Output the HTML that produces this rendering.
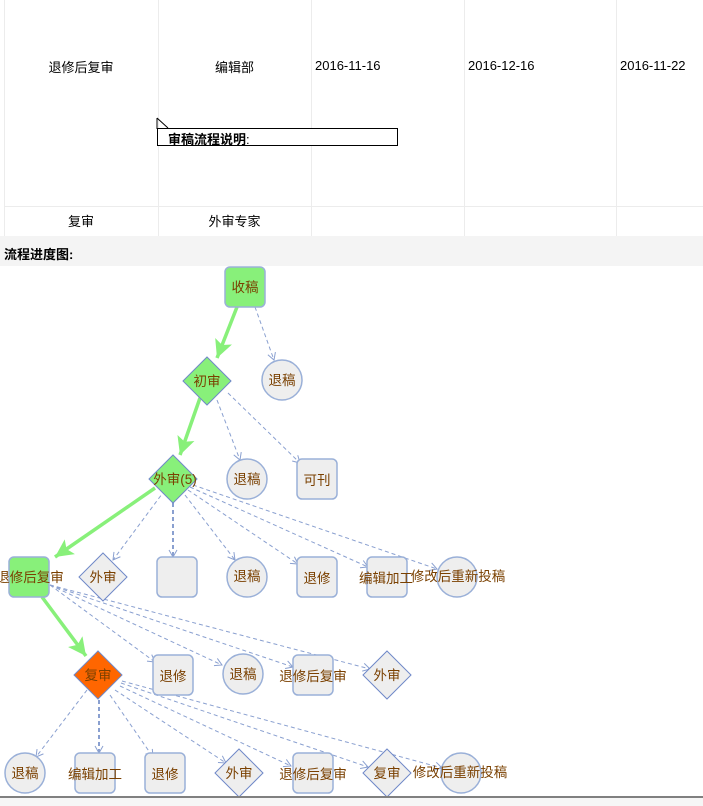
<!DOCTYPE html>
<html><head><meta charset="utf-8"><style>
body{margin:0;width:703px;height:806px;background:#fff;position:relative;overflow:hidden;font-family:"Liberation Sans","Noto Sans CJK SC",sans-serif;font-size:13px;color:#000}
.t{position:absolute;}
.vl{position:absolute;width:1px;background:#ececec;top:0;height:236px}
.hl{position:absolute;height:1px;background:#ececec;left:4px;width:699px}
</style></head><body>
<div class="vl" style="left:4px"></div>
<div class="vl" style="left:158px"></div>
<div class="vl" style="left:311px"></div>
<div class="vl" style="left:464px"></div>
<div class="vl" style="left:616px"></div>
<div class="hl" style="top:206px"></div>
<div class="t" style="left:4px;width:154px;text-align:center;top:57px">退修后复审</div>
<div class="t" style="left:158px;width:153px;text-align:center;top:57px">编辑部</div>
<div class="t" style="left:315px;top:58px">2016-11-16</div>
<div class="t" style="left:468px;top:58px">2016-12-16</div>
<div class="t" style="left:620px;top:58px">2016-11-22</div>
<div class="t" style="left:4px;width:154px;text-align:center;top:211px">复审</div>
<div class="t" style="left:158px;width:153px;text-align:center;top:211px">外审专家</div>
<div class="t" style="left:157px;top:128px;width:239px;height:16px;border:1px solid #000;background:#fff"></div>
<svg style="position:absolute;left:156px;top:117px" width="14" height="13"><path d="M1,1 L12,11" stroke="#000" stroke-width="1" fill="none"/><path d="M1,1 L1,12" stroke="#000"/></svg>
<div class="t" style="left:168px;top:129px;font-weight:bold">审稿流程说明<span style="font-weight:normal">:</span></div>
<div class="t" style="left:0;top:236px;width:703px;height:30px;background:#f4f4f4"></div>
<div class="t" style="left:4px;top:244px;font-weight:bold">流程进度图:</div>
<div class="t" style="left:0;top:796px;width:703px;height:2px;background:#808080"></div>
<div class="t" style="left:0;top:798px;width:703px;height:8px;background:#f6f6f6"></div>
<svg style="position:absolute;left:0;top:0" width="703" height="796" font-family="Liberation Sans, Noto Sans CJK SC, sans-serif" font-size="13.5">
<defs>
<marker id="a" markerWidth="10" markerHeight="10" refX="8" refY="5" orient="auto" markerUnits="userSpaceOnUse"><path d="M1,1 L8,5 L1,9" fill="none" stroke="#8aa0d0" stroke-width="1"/></marker>
<marker id="g" markerWidth="22" markerHeight="22" refX="18" refY="9" orient="auto" markerUnits="userSpaceOnUse"><path d="M0,0 L18,9 L0,18 L4,9z" fill="#88f07a"/></marker>
</defs>
<g stroke="#8aa0d0" stroke-width="1" stroke-dasharray="4,3" fill="none" marker-end="url(#a)">
<line x1="255" y1="307" x2="274" y2="360"/>
<line x1="217" y1="400" x2="240" y2="460"/>
<line x1="228" y1="393" x2="300" y2="463"/>
<line x1="165" y1="490" x2="113" y2="560"/>
<line x1="173" y1="503" x2="173" y2="557" stroke-width="2"/>
<line x1="185" y1="495" x2="235" y2="560"/>
<line x1="188" y1="490" x2="298" y2="564"/>
<line x1="190" y1="487" x2="368" y2="567"/>
<line x1="193" y1="485" x2="437" y2="569"/>
<line x1="50" y1="585" x2="155" y2="662"/>
<line x1="50" y1="585" x2="222" y2="665"/>
<line x1="50" y1="585" x2="293" y2="667"/>
<line x1="50" y1="585" x2="370" y2="669"/>
<line x1="87" y1="690" x2="36" y2="757"/>
<line x1="99" y1="700" x2="99" y2="753" stroke-width="2"/>
<line x1="110" y1="695" x2="153" y2="757"/>
<line x1="115" y1="690" x2="226" y2="763"/>
<line x1="120" y1="686" x2="291" y2="766"/>
<line x1="121" y1="683" x2="368" y2="767"/>
<line x1="122" y1="681" x2="442" y2="768"/>
</g>
<g stroke="#88f07a" stroke-width="3.5" fill="none" marker-end="url(#g)">
<line x1="237" y1="307" x2="217" y2="358"/>
<line x1="200" y1="398" x2="180" y2="455"/>
<line x1="155" y1="488" x2="55" y2="557"/>
<line x1="42" y1="597" x2="86" y2="656"/>
</g>
<g stroke="#9ab0d8" stroke-width="1.5" fill="#eeeeee">
<rect x="225" y="267" width="40" height="40" rx="5" fill="#88f07a"/>
<circle cx="282" cy="380" r="20"/>
<path d="M207,357 L231,381 L207,405 L183,381z" fill="#88f07a" stroke="#6f88c8" stroke-width="1"/>
<circle cx="247" cy="479" r="20"/>
<rect x="297" y="459" width="40" height="40" rx="5"/>
<path d="M173,455 L197,479 L173,503 L149,479z" fill="#88f07a" stroke="#6f88c8" stroke-width="1"/>
<rect x="9" y="557" width="40" height="40" rx="5" fill="#88f07a"/>
<path d="M103,553 L127,577 L103,601 L79,577z" stroke="#6f88c8" stroke-width="1"/>
<rect x="157" y="557" width="40" height="40" rx="5"/>
<circle cx="247" cy="577" r="20"/>
<rect x="297" y="557" width="40" height="40" rx="5"/>
<rect x="367" y="557" width="40" height="40" rx="5"/>
<circle cx="457" cy="577" r="20"/>
<path d="M98,651 L122,675 L98,699 L74,675z" fill="#ff6600" stroke="#6f88c8" stroke-width="1"/>
<rect x="153" y="655" width="40" height="40" rx="5"/>
<circle cx="243" cy="674" r="20"/>
<rect x="293" y="655" width="40" height="40" rx="5"/>
<path d="M387,651 L411,675 L387,699 L363,675z" stroke="#6f88c8" stroke-width="1"/>
<circle cx="25" cy="773" r="20"/>
<rect x="75" y="753" width="40" height="40" rx="5"/>
<rect x="145" y="753" width="40" height="40" rx="5"/>
<path d="M239,749 L263,773 L239,797 L215,773z" stroke="#6f88c8" stroke-width="1"/>
<rect x="293" y="753" width="40" height="40" rx="5"/>
<path d="M387,749 L411,773 L387,797 L363,773z" stroke="#6f88c8" stroke-width="1"/>
<circle cx="461" cy="773" r="20"/>
</g>
<g fill="#7a4000" text-anchor="middle">
<text x="245" y="292">收稿</text>
<text x="282" y="385">退稿</text>
<text x="207" y="386">初审</text>
<text x="247" y="484">退稿</text>
<text x="317" y="485">可刊</text>
<text x="175" y="484">外审(5)</text>
<text x="30" y="582">退修后复审</text>
<text x="103" y="582">外审</text>
<text x="247" y="581">退稿</text>
<text x="317" y="583">退修</text>
<text x="386" y="583">编辑加工</text>
<text x="458" y="581">修改后重新投稿</text>
<text x="98" y="680">复审</text>
<text x="173" y="681">退修</text>
<text x="243" y="679">退稿</text>
<text x="313" y="681">退修后复审</text>
<text x="387" y="680">外审</text>
<text x="25" y="778">退稿</text>
<text x="95" y="779">编辑加工</text>
<text x="165" y="779">退修</text>
<text x="239" y="778">外审</text>
<text x="313" y="779">退修后复审</text>
<text x="387" y="778">复审</text>
<text x="460" y="777">修改后重新投稿</text>
</g>
</svg>
</body></html>
